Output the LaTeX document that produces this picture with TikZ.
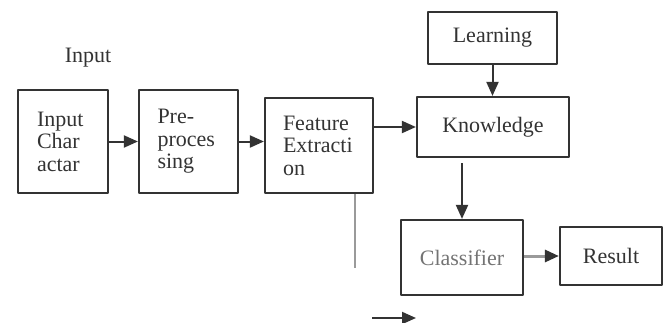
\documentclass[tikz,border=0pt]{standalone}
\usepackage{fontspec}
\setmainfont{Liberation Serif}
\usetikzlibrary{arrows.meta}
\definecolor{ink}{HTML}{333333}
\definecolor{pale}{HTML}{9A9A9A}
\begin{document}
\begin{tikzpicture}[x=1pt,y=-1pt,line join=round,
	font=\fontsize{22}{22.5}\selectfont,text=ink,
	blk/.style={draw=ink,line width=2.2pt,rectangle,inner sep=0pt,align=center},
	wrapblk/.style={blk,align=left},
	arr/.style={-{Triangle[length=14pt,width=12pt]},draw=ink,line width=2pt},
	grayarr/.style={-{Triangle[length=14pt,width=12pt,color=ink]},draw=pale,line width=3pt}]
	\useasboundingbox (0,0) rectangle (664,322);
	% left chain
	\node (inlab) at (88,58) {Input};
	\node[wrapblk,minimum height=103,text width=52,inner xsep=19] (inchar) at (63,141.5) {Input\\Char\\actar};
	\node[wrapblk,minimum height=103,text width=62,inner xsep=18.5] (prep) at (188.5,141.5) {Pre-\\proces\\sing};
	\node[wrapblk,minimum height=95,text width=72,inner xsep=18] (feat) at (319,145.5) {Feature\\Extracti\\on};
	% right part
	\node[blk,minimum width=129,minimum height=52] (learn) at (492.5,38) {Learning};
	\node[blk,minimum width=152,minimum height=60] (know) at (493,127) {Knowledge};
	\node[blk,minimum width=122,minimum height=75,text=black!55] (clas) at (462,257.5) {Classifier};
	\node[blk,minimum width=102,minimum height=58] (res) at (611,256) {Result};
	\coordinate (fend) at (355,268);
	\coordinate (lo1) at (372,318);
	\coordinate (lo2) at (416,318);
	% connectors
	\draw[arr] (inchar.east) -- (prep.west);
	\draw[arr] (prep.east) -- (prep.east -| feat.west);
	\draw[arr] (feat.east |- know.west) -- (know.west);
	\draw[arr] (learn.south) -- (learn.south |- know.north);
	\draw[arr,shorten <=5pt] (clas.north |- know.south) -- (clas.north);
	\draw[grayarr] (clas.east |- res.west) -- (res.west);
	\draw[pale,line width=2pt] (feat.south -| fend) -- (fend);
	\draw[arr] (lo1) -- (lo2);
\end{tikzpicture}
\end{document}
